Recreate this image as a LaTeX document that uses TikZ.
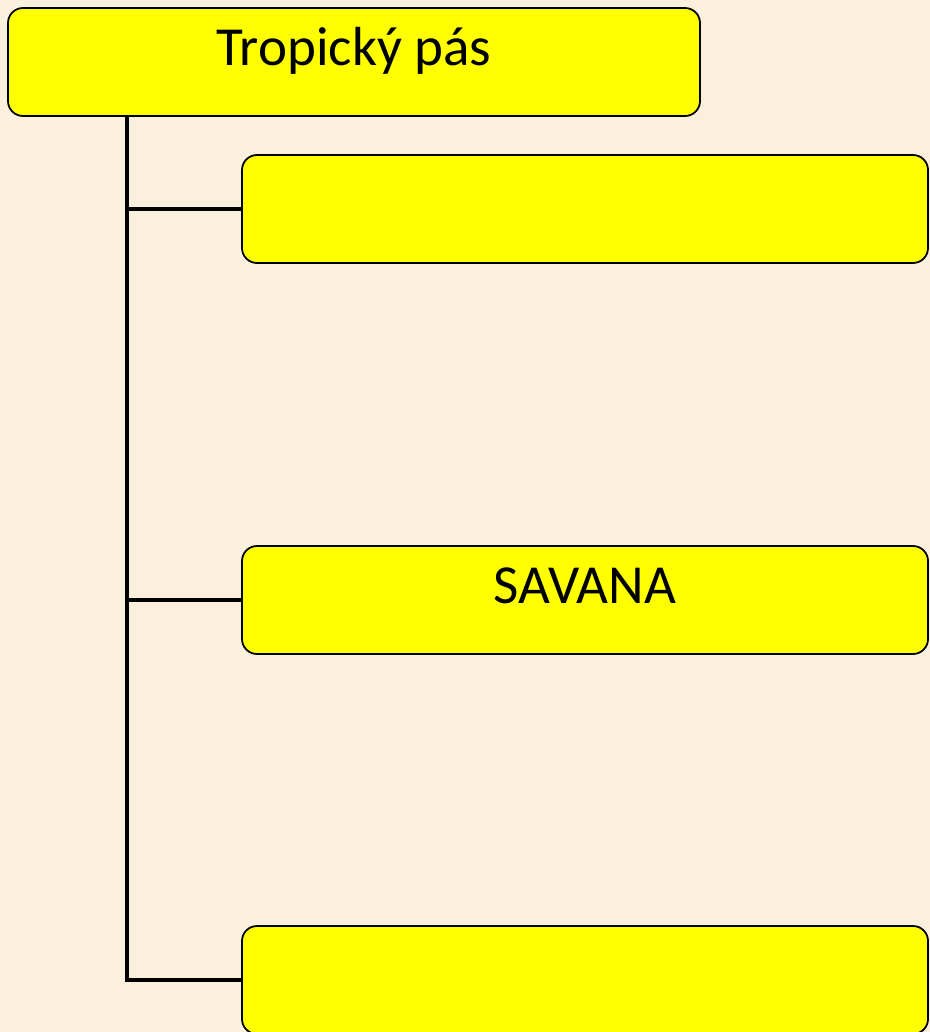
\documentclass[tikz,border=0pt]{standalone}
\usepackage{fontspec}
\setmainfont{Carlito}
\usepackage{tikz}
\usetikzlibrary{positioning}
\definecolor{paper}{RGB}{251,240,222}
\definecolor{boxyellow}{RGB}{255,255,0}

\begin{document}
\begin{tikzpicture}[x=0.03cm, y=-0.03cm,
  box/.style={draw, line width=1.5pt, rounded corners=0.45cm, fill=boxyellow,
              minimum height=3.24cm, text height=1.56cm, text depth=1.38cm,
              inner sep=0pt, font=\fontsize{47}{54}\selectfont},
  trunk/.style={line width=4.2pt}
]
  \clip (0,0) rectangle (930,1032);
  \fill[paper] (0,0) rectangle (930,1032);
  \node[box, minimum width=20.76cm] (trop) at (354,62) {Tropický pás};
  \node[box, minimum width=20.58cm] (kid1) at (585,209) {};
  \node[box, minimum width=20.58cm] (sav)  at (585,600) {SAVANA};
  \node[box, minimum width=20.58cm] (kid3) at (585,980) {};
  \coordinate (rail) at (127,0);
  \draw[trunk] (trop.south -| rail) |- (kid3.west);
  \draw[trunk] (rail |- kid1.west) -- (kid1.west);
  \draw[trunk] (rail |- sav.west) -- (sav.west);
\end{tikzpicture}
\end{document}
